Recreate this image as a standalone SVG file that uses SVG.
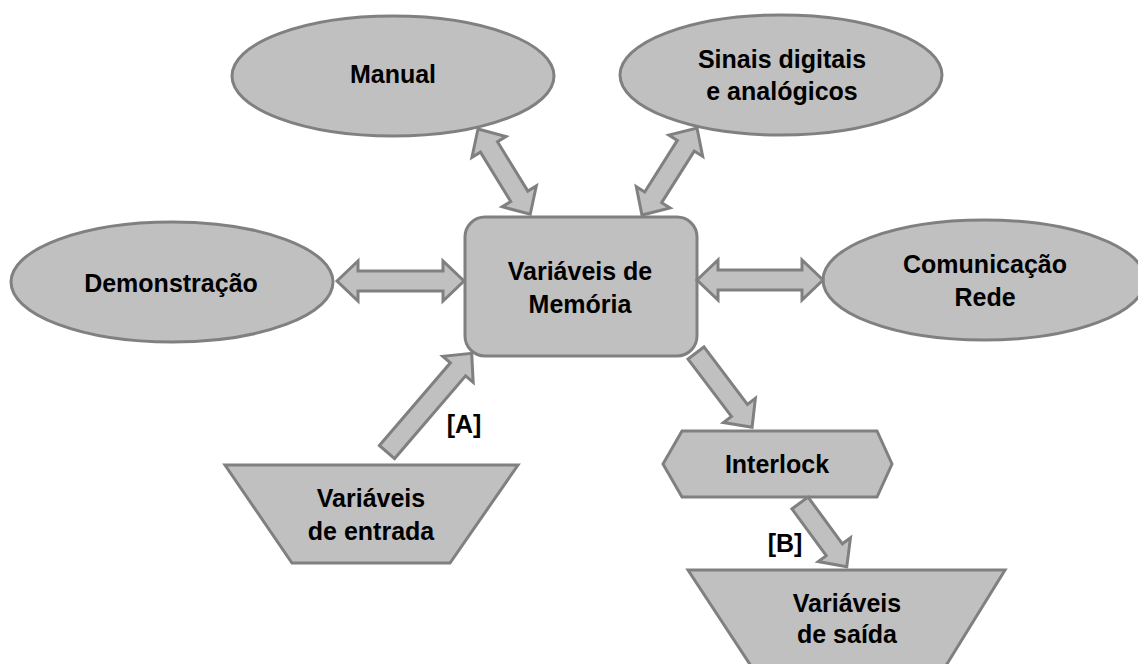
<svg xmlns="http://www.w3.org/2000/svg" width="1138" height="664" viewBox="0 0 1138 664">
  <style>
    .shape { fill: #c0c0c0; stroke: #808080; stroke-width: 3; stroke-linejoin: miter; }
    .arrow { fill: #c0c0c0; stroke: #808080; stroke-width: 3; stroke-linejoin: miter; }
    .label { font-family: "Liberation Sans", Arial, sans-serif; font-weight: bold; font-size: 25px; fill: #000; text-anchor: middle; }
  </style>
  <rect width="1138" height="664" fill="#ffffff"/>

  <!-- nodes -->
  <g id="manual">
    <ellipse class="shape" cx="393" cy="76" rx="161" ry="60"/>
    <text class="label" x="393" y="83">Manual</text>
  </g>
  <g id="sinais">
    <ellipse class="shape" cx="781" cy="75" rx="161" ry="60"/>
    <text class="label" x="782" y="68">Sinais digitais</text>
    <text class="label" x="782" y="100">e analógicos</text>
  </g>
  <g id="demonstracao">
    <ellipse class="shape" cx="172" cy="282" rx="161" ry="60"/>
    <text class="label" x="171" y="292">Demonstração</text>
  </g>
  <g id="comunicacao">
    <ellipse class="shape" cx="984" cy="280" rx="161" ry="60"/>
    <text class="label" x="985" y="273">Comunicação</text>
    <text class="label" x="985" y="306">Rede</text>
  </g>
  <g id="memoria">
    <rect class="shape" x="465" y="217" width="232" height="139" rx="20" ry="20"/>
    <text class="label" x="580" y="280">Variáveis de</text>
    <text class="label" x="580" y="313">Memória</text>
  </g>
  <g id="entrada">
    <polygon class="shape" points="225,465 518,465 450,563 292,563"/>
    <text class="label" x="371" y="507">Variáveis</text>
    <text class="label" x="371" y="540">de entrada</text>
  </g>
  <g id="interlock">
    <polygon class="shape" points="663,464 682,431 877,431 892,464 877,497 682,497"/>
    <text class="label" x="777" y="473">Interlock</text>
  </g>
  <g id="saida">
    <polygon class="shape" points="688,570 1005,570 942,672 755,672"/>
    <text class="label" x="847" y="612">Variáveis</text>
    <text class="label" x="847" y="643">de saída</text>
  </g>

  <!-- connectors: block arrows, drawn along +x then rotated into place -->
  <g id="connectors">
    <!-- Demonstração <-> Memória -->
    <path class="arrow" transform="translate(337,281)" d="M0,0 L21,-20 L21,-10 L106,-10 L106,-20 L127,0 L106,20 L106,10 L21,10 L21,20 Z"/>
    <!-- Memória <-> Comunicação -->
    <path class="arrow" transform="translate(697,280)" d="M0,0 L21,-20 L21,-10 L105,-10 L105,-20 L126,0 L105,20 L105,10 L21,10 L21,20 Z"/>
    <!-- Manual <-> Memória -->
    <path class="arrow" transform="translate(478,129) rotate(58.5)" d="M0,0 L21,-20 L21,-10 L79,-10 L79,-20 L100,0 L79,20 L79,10 L21,10 L21,20 Z"/>
    <!-- Sinais <-> Memória -->
    <path class="arrow" transform="translate(697,128) rotate(122.3)" d="M0,0 L21,-20 L21,-10 L82,-10 L82,-20 L103,0 L82,20 L82,10 L21,10 L21,20 Z"/>
    <!-- Entrada -> Memória [A] -->
    <path class="arrow" transform="translate(387,452) rotate(-49.35)" d="M0,-10 L109,-10 L109,-20 L130,0 L109,20 L109,10 L0,10 Z"/>
    <!-- Memória -> Interlock -->
    <path class="arrow" transform="translate(696,353) rotate(52.9)" d="M0,-10 L72,-10 L72,-20 L93,0 L72,20 L72,10 L0,10 Z"/>
    <!-- Interlock -> Saída [B] -->
    <path class="arrow" transform="translate(800,503) rotate(53.7)" d="M0,-10 L58,-10 L58,-20 L79,0 L58,20 L58,10 L0,10 Z"/>
    <text class="label" x="464" y="433">[A]</text>
    <text class="label" x="785" y="552">[B]</text>
  </g>
</svg>
